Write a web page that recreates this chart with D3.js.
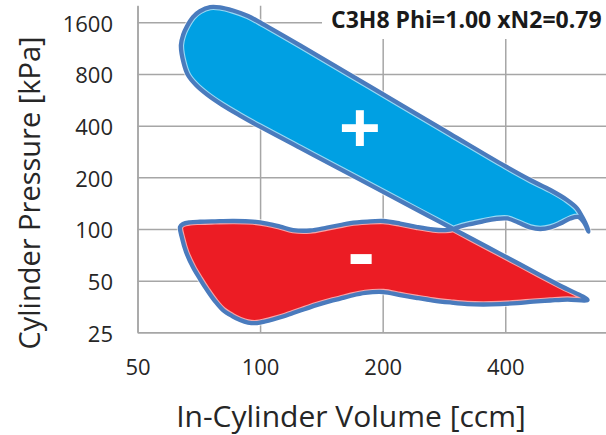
<!DOCTYPE html>
<html><head><meta charset="utf-8">
<script src="https://cdn.jsdelivr.net/npm/d3@7"></script>
<style>body{margin:0;background:#fff;} svg{display:block;font-family:'Open Sans',sans-serif;}</style>
</head><body>
<svg id="chart" width="606" height="435"></svg>
<script>
// ---- data ----
const xTicks = [50, 100, 200, 400];
const yTicks = [25, 50, 100, 200, 400, 800, 1600];
const titleText = "C3H8 Phi=1.00 xN2=0.79";

// intake stroke (TDC -> BDC), volume [ccm], pressure [kPa]
const intakeV = [63.6, 64.3, 65.8, 68.4, 71.2, 74.1, 77.5, 81.1, 85.4, 89.3, 93.4, 98.3, 102.9, 107.6, 113.9, 120.5, 129.0, 138.1, 148.6, 157.3, 166.4, 181.1, 200.6, 220.8, 243.1, 266.1, 293.0, 322.6, 353.2, 388.9, 428.1, 468.7, 516.0, 568.1, 637];
const intakeP = [102.7, 88.6, 73.4, 60.0, 51.1, 44.1, 38.0, 33.7, 31.1, 29.5, 28.5, 28.3, 28.9, 29.7, 30.9, 32.4, 34.2, 36.1, 38.0, 39.3, 40.7, 42.4, 42.9, 41.2, 39.6, 38.3, 37.3, 36.5, 36.3, 36.5, 37.0, 37.7, 38.3, 38.8, 38.6];
// compression stroke (BDC -> TDC)
const compressionV = [637, 546, 435.4, 361.3, 298.0, 247.3, 200.6, 157.3, 125.4, 100, 89.3, 80.65, 74.1, 69.6, 66.5, 64.9];
const compressionP = [38.6, 46.7, 62.1, 78.5, 100.0, 126.4, 164.4, 223.2, 296.7, 394.3, 458.2, 528.9, 607.3, 689.9, 789, 926.6];
// combustion + expansion stroke (TDC -> BDC)
const expansionV = [63.9, 64.7, 66.2, 68.4, 71.2, 75.4, 79.7, 85.8, 93.4, 101.1, 125.4, 166.4, 220.8, 293.0, 400, 460.8, 516.0, 567.2, 600.2, 620.9, 635.1, 640];
const expansionP = [1180, 1349, 1522, 1717, 1861, 1964, 1956, 1874, 1741, 1574, 1175, 791, 532.5, 358.4, 232.1, 192.9, 168.7, 147.5, 131.9, 115.4, 103.1, 96.4];
// exhaust stroke (BDC -> TDC)
const exhaustV = [640, 625.5, 604.6, 577.8, 546.0, 516.0, 487.6, 460.8, 430.5, 404.6, 378.0, 351.2, 324.5, 304.9, 298.0, 284.9, 266.1, 243.1, 220.8, 200.6, 183.2, 166.4, 157.3, 146.1, 132.7, 120.5, 112.0, 104.0, 96.1, 85.8, 77.5, 71.2, 67.3, 64.7, 63.6];
const exhaustP = [96.4, 108.3, 117.4, 115.1, 107.6, 102.0, 100.0, 102.0, 109.0, 115.1, 114.3, 110.5, 106.2, 102.0, 100.0, 98.6, 99.3, 102.7, 107.6, 111.3, 110.5, 108.3, 105.5, 102.0, 98.0, 98.6, 103.3, 107.6, 110.5, 111.3, 110.8, 110.2, 109.3, 106.9, 102.7];
// index of the crossing point (compression meets exhaust) in each stroke
const crossCompression = 4;
const crossExhaust = 14;

// ---- chart ----
const svg = d3.select('#chart');
const mLeft = 137.5, mRight = 606, mTop = 5.7, mBottom = 332.3;
const x = d3.scaleLog().domain([50, 707]).range([mLeft, mRight]);
const y = d3.scaleLog().domain([25, 2000]).range([mBottom, mTop]);
const gridColor = '#a6a6a6';
const textColor = '#262626';

const gx = svg.append('g').attr('transform', `translate(0,${mBottom})`)
  .call(d3.axisBottom(x).tickValues(xTicks).tickFormat(d3.format('d'))
    .tickSizeInner(-(mBottom - mTop)).tickSizeOuter(0).tickPadding(27));
const gy = svg.append('g').attr('transform', `translate(${mLeft},0)`)
  .call(d3.axisLeft(y).tickValues(yTicks).tickFormat(d3.format('d'))
    .tickSizeInner(-(mRight - mLeft)).tickSizeOuter(0).tickPadding(24.5));
[gx, gy].forEach(g => {
  g.attr('font-family', "'Open Sans', sans-serif").attr('font-size', 22);
  g.select('.domain').attr('stroke', gridColor).attr('stroke-width', 1.5);
  g.selectAll('.tick line').attr('stroke', gridColor).attr('stroke-width', 1.5);
  g.selectAll('.tick text').attr('fill', textColor);
});
gy.selectAll('.tick text').attr('dy', '0.4em');

// loop geometry
const pts = (V, P) => V.map((v, i) => [x(v), y(P[i])]);
const intake = pts(intakeV, intakeP);
const comp = pts(compressionV, compressionP);
const expa = pts(expansionV, expansionP);
const exh = pts(exhaustV, exhaustP);

const blueLobe = comp.slice(crossCompression).concat(expa, exh.slice(1, crossExhaust));
const redLobe = intake.concat(comp.slice(1, crossCompression + 1), exh.slice(crossExhaust + 1, exh.length - 1));
const outline = intake.concat(comp.slice(1), expa, exh.slice(1, exh.length - 1));

const closed = d3.line().curve(d3.curveCatmullRomClosed.alpha(0.5));
svg.append('path').attr('d', closed(blueLobe)).attr('fill', '#00a0e3');
svg.append('path').attr('d', closed(redLobe)).attr('fill', '#ec1c24');
svg.append('path').attr('d', closed(outline)).attr('fill', 'none')
  .attr('stroke', '#ffffff').attr('stroke-opacity', 0.6).attr('stroke-width', 6.5).attr('stroke-linejoin', 'round');
svg.append('path').attr('d', closed(outline)).attr('fill', 'none')
  .attr('stroke', '#4a7bbd').attr('stroke-width', 4.3).attr('stroke-linejoin', 'round');

// signs
svg.append('text').attr('x', 360).attr('y', 127 + 0.36 * 74).attr('text-anchor', 'middle')
  .attr('font-weight', 700).attr('font-size', 74).attr('fill', '#fff').text('+');
svg.append('text').attr('x', 361).attr('y', 260 + 0.265 * 80).attr('text-anchor', 'middle')
  .attr('font-weight', 700).attr('font-size', 80).attr('fill', '#fff').text('-');

// title with white background
svg.append('rect').attr('x', 322).attr('y', 0).attr('width', 284).attr('height', 39).attr('fill', '#fff');
svg.append('text').attr('x', 331).attr('y', 28.3).attr('font-weight', 700).attr('font-size', 23)
  .attr('fill', '#1a1a1a').text(titleText);

// axis titles
svg.append('text').attr('x', 351).attr('y', 427).attr('text-anchor', 'middle')
  .attr('font-size', 30).attr('fill', textColor).text('In-Cylinder Volume [ccm]');
svg.append('text').attr('transform', 'translate(40,193) rotate(-90)').attr('text-anchor', 'middle')
  .attr('font-size', 29).attr('fill', textColor).text('Cylinder Pressure [kPa]');
</script>
</body></html>
